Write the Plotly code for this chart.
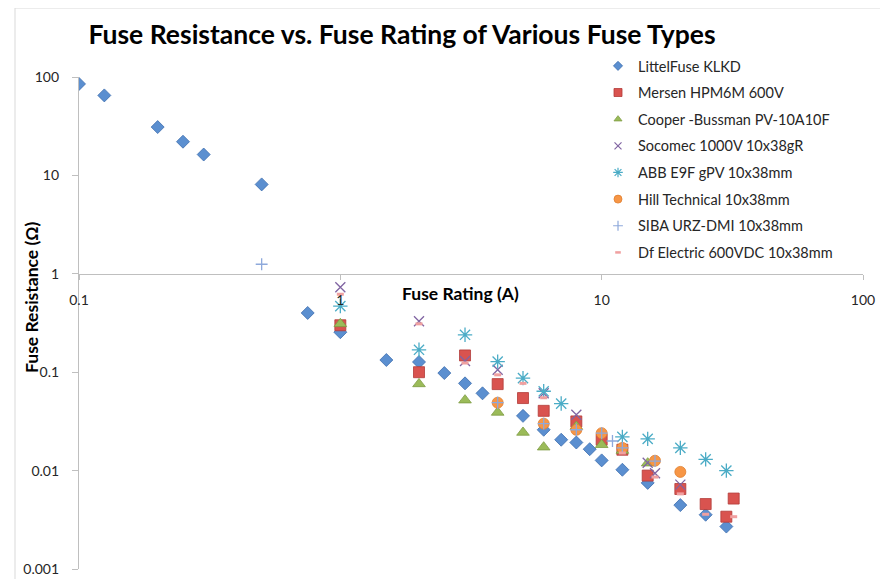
import plotly.graph_objects as go

# ---------------- data ----------------
series_names = [
    "LittelFuse KLKD",
    "Mersen HPM6M 600V",
    "Cooper -Bussman PV-10A10F",
    "Socomec 1000V 10x38gR",
    "ABB E9F gPV 10x38mm",
    "Hill Technical 10x38mm",
    "SIBA URZ-DMI 10x38mm",
    "Df Electric 600VDC 10x38mm",
]

littelfuse_x = [0.1, 0.125, 0.2, 0.25, 0.3, 0.5, 0.75, 1, 1.5, 2, 2.5, 3, 3.5, 5, 6, 7, 8, 9, 10, 12, 15, 20, 25, 30]
littelfuse_y = [85, 65, 31, 22, 16.3, 8.1, 0.40, 0.255, 0.133, 0.127, 0.098, 0.077, 0.061, 0.036, 0.026, 0.0206, 0.0193, 0.0165, 0.0127, 0.0102, 0.0075, 0.00446, 0.00356, 0.0027]

mersen_x = [1, 2, 3, 4, 5, 6, 8, 10, 12, 15, 20, 25, 30, 32]
mersen_y = [0.30, 0.10, 0.148, 0.0757, 0.0546, 0.0405, 0.0316, 0.0206, 0.0163, 0.0089, 0.0065, 0.00457, 0.0034, 0.0052]

cooper_x = [1, 2, 3, 4, 5, 6, 8, 10, 12, 15]
cooper_y = [0.31, 0.076, 0.052, 0.039, 0.0244, 0.0173, 0.028, 0.0183, 0.016, 0.0119]

socomec_x = [1, 2, 3, 4, 6, 8, 15, 16, 20]
socomec_y = [0.73, 0.33, 0.13, 0.106, 0.061, 0.037, 0.012, 0.0094, 0.0072]

abb_x = [1, 2, 3, 4, 5, 6, 7, 12, 15, 20, 25, 30]
abb_y = [0.47, 0.169, 0.24, 0.128, 0.087, 0.064, 0.048, 0.022, 0.021, 0.017, 0.013, 0.010]

hill_x = [4, 6, 8, 10, 12, 16, 20]
hill_y = [0.049, 0.030, 0.026, 0.024, 0.017, 0.0126, 0.0097]

siba_x = [0.5, 4, 6, 8, 10, 11, 12, 16]
siba_y = [1.25, 0.049, 0.030, 0.026, 0.024, 0.020, 0.017, 0.0125]

df_x = [1, 2, 3, 4, 5, 6, 12, 16, 20, 25, 32]
df_y = [0.62, 0.31, 0.124, 0.094, 0.077, 0.055, 0.0151, 0.0086, 0.0058, 0.0036, 0.0034]

x_tick_vals = [0.1, 1, 10, 100]
x_tick_text = ["0.1", "1", "10", "100"]
y_tick_vals = [0.001, 0.01, 0.1, 1, 10, 100]
y_tick_text = ["0.001", "0.01", "0.1", "1", "10", "100"]

# ---------------- styles ----------------
symbols = ["diamond", "square", "triangle-up", "x-thin-open", "asterisk-open",
           "circle", "cross-thin-open", "line-ew-open"]
fills = ["#5B8FD0", "#D9534F", "#9BBB59", "#8064A2", "#4BACC6", "#F79646", "#8EA9DB", "#F0A0A0"]
edges = ["#3F6FAE", "#B23B38", "#7E9C42", "#8064A2", "#4BACC6", "#E07F2E", "#8EA9DB", "#F0A0A0"]
edge_w = [0.8, 0.8, 0.8, 1.3, 1.3, 0.8, 1.3, 3]
plot_sizes = [10, 11, 11, 10, 12, 11, 8.5, 5]
legend_sizes = [7, 8, 7, 7, 8, 8, 7, 4]

xs = [littelfuse_x, mersen_x, cooper_x, socomec_x, abb_x, hill_x, siba_x, df_x]
ys = [littelfuse_y, mersen_y, cooper_y, socomec_y, abb_y, hill_y, siba_y, df_y]

fig = go.Figure()
for i, (name, x, y) in enumerate(zip(series_names, xs, ys)):
    fig.add_trace(go.Scatter(
        x=x, y=y, mode="markers", name=name, showlegend=False,
        marker=dict(symbol=symbols[i], size=plot_sizes[i], color=fills[i],
                    line=dict(color=edges[i], width=edge_w[i])),
    ))
# legend-only entries (smaller symbols, like the original legend)
for i, name in enumerate(series_names):
    fig.add_trace(go.Scatter(
        x=[None], y=[None], mode="markers", name=name, legendgroup=f"g{i}",
        marker=dict(symbol=symbols[i], size=legend_sizes[i], color=fills[i],
                    line=dict(color=edges[i], width=min(edge_w[i], 1.2) if i != 7 else 2.5)),
    ))

# body of the page has an 8px margin: figure is sized/margined to compensate
axis_grey = "#BFBFBF"
fig.update_layout(
    width=880, height=571,
    margin=dict(l=71, r=25, t=69, b=10, autoexpand=False),
    paper_bgcolor="white", plot_bgcolor="white",
    font=dict(family="Lato, Open Sans, sans-serif", size=14, color="#262626"),
    title=dict(
        text="<b>Fuse Resistance vs. Fuse Rating of Various Fuse Types</b>",
        font=dict(family="Lato, sans-serif", size=26.5, color="#000000"),
        xref="container", x=394 / 880, xanchor="center",
        yref="container", y=1 - 27 / 571, yanchor="middle",
    ),
    xaxis=dict(
        type="log", range=[-1, 2], tickvals=x_tick_vals, ticktext=x_tick_text,
        showgrid=False, zeroline=False, showline=True, linecolor=axis_grey, linewidth=1.2,
        ticks="outside", ticklen=5, tickcolor=axis_grey, ticklabelstandoff=8,
        anchor="free", position=0.6, automargin=False,
        tickfont=dict(size=14, color="#262626"),
    ),
    yaxis=dict(
        type="log", range=[-3, 2], tickvals=y_tick_vals, ticktext=y_tick_text,
        showgrid=False, zeroline=False, showline=True, linecolor=axis_grey, linewidth=1.2,
        ticks="outside", ticklen=6, tickcolor=axis_grey, ticklabelstandoff=10,
        automargin=False,
        tickfont=dict(size=14, color="#262626"),
    ),
    legend=dict(
        x=0.662, y=1.055, xanchor="left", yanchor="top",
        font=dict(size=14.5, color="#262626"),
        bgcolor="rgba(0,0,0,0)", tracegroupgap=4.8,
        itemclick=False,
    ),
    showlegend=True,
    annotations=[
        dict(text="<b>Fuse Rating (A)</b>", xref="paper", yref="paper",
             x=(460 - 79) / 784, y=(569 - 293) / 492, xanchor="center", yanchor="middle",
             showarrow=False, font=dict(size=17.5, color="#000000")),
        dict(text="<b>Fuse Resistance (Ω)</b>", xref="paper", yref="paper",
             x=(31 - 79) / 784, y=(569 - 297) / 492, xanchor="center", yanchor="middle",
             textangle=-90, showarrow=False, font=dict(size=17.5, color="#000000")),
    ],
    shapes=[
        dict(type="line", xref="paper", yref="paper",
             x0=(15 - 79) / 784, x1=(15 - 79) / 784, y0=(569 - 8) / 492, y1=(569 - 600) / 492,
             line=dict(color="#D9D9D9", width=1)),
        dict(type="line", xref="paper", yref="paper",
             x0=(15 - 79) / 784, x1=(900 - 79) / 784, y0=(569 - 8) / 492, y1=(569 - 8) / 492,
             line=dict(color="#D9D9D9", width=1)),
    ],
)

fig.write_html("out.html")
